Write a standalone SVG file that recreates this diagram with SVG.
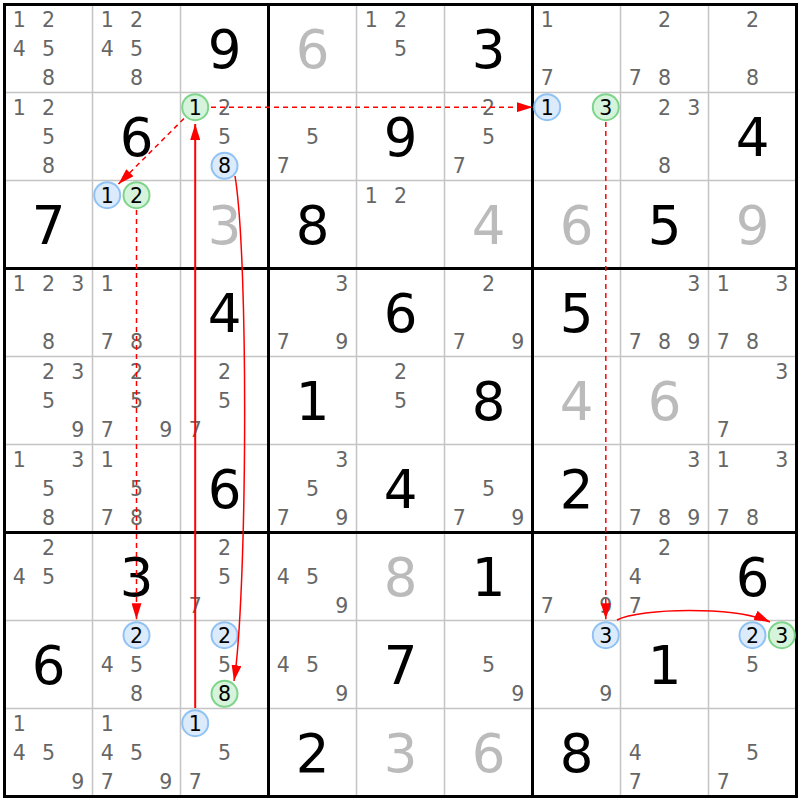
<svg xmlns="http://www.w3.org/2000/svg" width="800" height="800" viewBox="0 0 800 800">
<style>
text{font-family:"DejaVu Sans","Liberation Sans",sans-serif;text-anchor:middle}
.c{font-size:20.5px;fill:#666}
.h{font-size:20.5px;fill:#000}
.g{font-size:53px;fill:#000}
.s{font-size:53px;fill:#bbb}
.thin{stroke:#c4c4c4;stroke-width:1.5}
.thick{stroke:#000;stroke-width:3}
.cb{fill:#dcebfc;stroke:#90c2f4;stroke-width:2}
.cg{fill:#d6f3dc;stroke:#7fd48b;stroke-width:2}
.ln{stroke:#ff0000;fill:none}
.d{stroke-width:1.5;stroke-dasharray:5,4}
</style>
<defs>
<marker id="ah" viewBox="0 0 16 10" refX="16" refY="5" markerWidth="16" markerHeight="10" markerUnits="userSpaceOnUse" orient="auto">
<path d="M0,0 L16,5 L0,10 z" fill="#ff0000"/>
</marker>
</defs>
<rect x="0" y="0" width="800" height="800" fill="#fff"/>
<g id="grid">
<path class="thin" d="M92.5 4.5V796.5M180.5 4.5V796.5M356.5 4.5V796.5M444.5 4.5V796.5M620.5 4.5V796.5M708.5 4.5V796.5M4.5 92.5H796.5M4.5 180.5H796.5M4.5 356.5H796.5M4.5 444.5H796.5M4.5 620.5H796.5M4.5 708.5H796.5"/>
<path class="thick" d="M268.5 4.5V796.5M532.5 4.5V796.5M4.5 268.5H796.5M4.5 532.5H796.5"/>
<rect x="4.5" y="4.5" width="792" height="792" fill="none" stroke="#000" stroke-width="3"/>
</g>
<g id="r0c0"><text class="c" x="19.2" y="26.7">1</text><text class="c" x="48.5" y="26.7">2</text><text class="c" x="19.2" y="56">4</text><text class="c" x="48.5" y="56">5</text><text class="c" x="48.5" y="85.3">8</text></g>
<g id="r0c1"><text class="c" x="107.2" y="26.7">1</text><text class="c" x="136.5" y="26.7">2</text><text class="c" x="107.2" y="56">4</text><text class="c" x="136.5" y="56">5</text><text class="c" x="136.5" y="85.3">8</text></g>
<g id="r0c2"><text class="g" x="224.5" y="67.5">9</text></g>
<g id="r0c3"><text class="s" x="312.5" y="67.5">6</text></g>
<g id="r0c4"><text class="c" x="371.2" y="26.7">1</text><text class="c" x="400.5" y="26.7">2</text><text class="c" x="400.5" y="56">5</text></g>
<g id="r0c5"><text class="g" x="488.5" y="67.5">3</text></g>
<g id="r0c6"><text class="c" x="547.2" y="26.7">1</text><text class="c" x="547.2" y="85.3">7</text></g>
<g id="r0c7"><text class="c" x="664.5" y="26.7">2</text><text class="c" x="635.2" y="85.3">7</text><text class="c" x="664.5" y="85.3">8</text></g>
<g id="r0c8"><text class="c" x="752.5" y="26.7">2</text><text class="c" x="752.5" y="85.3">8</text></g>

<g id="r1c0"><text class="c" x="19.2" y="114.7">1</text><text class="c" x="48.5" y="114.7">2</text><text class="c" x="48.5" y="144">5</text><text class="c" x="48.5" y="173.3">8</text></g>
<g id="r1c1"><text class="g" x="136.5" y="155.5">6</text></g>
<g id="r1c2"><circle class="cg" cx="195.2" cy="107.2" r="13"/><text class="h" x="195.2" y="114.7">1</text><text class="c" x="224.5" y="114.7">2</text><text class="c" x="224.5" y="144">5</text><circle class="cb" cx="224.5" cy="165.8" r="13"/><text class="h" x="224.5" y="173.3">8</text></g>
<g id="r1c3"><text class="c" x="312.5" y="144">5</text><text class="c" x="283.2" y="173.3">7</text></g>
<g id="r1c4"><text class="g" x="400.5" y="155.5">9</text></g>
<g id="r1c5"><text class="c" x="488.5" y="114.7">2</text><text class="c" x="488.5" y="144">5</text><text class="c" x="459.2" y="173.3">7</text></g>
<g id="r1c6"><circle class="cb" cx="547.2" cy="107.2" r="13"/><text class="h" x="547.2" y="114.7">1</text><circle class="cg" cx="605.8" cy="107.2" r="13"/><text class="h" x="605.8" y="114.7">3</text></g>
<g id="r1c7"><text class="c" x="664.5" y="114.7">2</text><text class="c" x="693.8" y="114.7">3</text><text class="c" x="664.5" y="173.3">8</text></g>
<g id="r1c8"><text class="g" x="752.5" y="155.5">4</text></g>

<g id="r2c0"><text class="g" x="48.5" y="243.5">7</text></g>
<g id="r2c1"><circle class="cb" cx="107.2" cy="195.2" r="13"/><text class="h" x="107.2" y="202.7">1</text><circle class="cg" cx="136.5" cy="195.2" r="13"/><text class="h" x="136.5" y="202.7">2</text></g>
<g id="r2c2"><text class="s" x="224.5" y="243.5">3</text></g>
<g id="r2c3"><text class="g" x="312.5" y="243.5">8</text></g>
<g id="r2c4"><text class="c" x="371.2" y="202.7">1</text><text class="c" x="400.5" y="202.7">2</text></g>
<g id="r2c5"><text class="s" x="488.5" y="243.5">4</text></g>
<g id="r2c6"><text class="s" x="576.5" y="243.5">6</text></g>
<g id="r2c7"><text class="g" x="664.5" y="243.5">5</text></g>
<g id="r2c8"><text class="s" x="752.5" y="243.5">9</text></g>

<g id="r3c0"><text class="c" x="19.2" y="290.7">1</text><text class="c" x="48.5" y="290.7">2</text><text class="c" x="77.8" y="290.7">3</text><text class="c" x="48.5" y="349.3">8</text></g>
<g id="r3c1"><text class="c" x="107.2" y="290.7">1</text><text class="c" x="107.2" y="349.3">7</text><text class="c" x="136.5" y="349.3">8</text></g>
<g id="r3c2"><text class="g" x="224.5" y="331.5">4</text></g>
<g id="r3c3"><text class="c" x="341.8" y="290.7">3</text><text class="c" x="283.2" y="349.3">7</text><text class="c" x="341.8" y="349.3">9</text></g>
<g id="r3c4"><text class="g" x="400.5" y="331.5">6</text></g>
<g id="r3c5"><text class="c" x="488.5" y="290.7">2</text><text class="c" x="459.2" y="349.3">7</text><text class="c" x="517.8" y="349.3">9</text></g>
<g id="r3c6"><text class="g" x="576.5" y="331.5">5</text></g>
<g id="r3c7"><text class="c" x="693.8" y="290.7">3</text><text class="c" x="635.2" y="349.3">7</text><text class="c" x="664.5" y="349.3">8</text><text class="c" x="693.8" y="349.3">9</text></g>
<g id="r3c8"><text class="c" x="723.2" y="290.7">1</text><text class="c" x="781.8" y="290.7">3</text><text class="c" x="723.2" y="349.3">7</text><text class="c" x="752.5" y="349.3">8</text></g>

<g id="r4c0"><text class="c" x="48.5" y="378.7">2</text><text class="c" x="77.8" y="378.7">3</text><text class="c" x="48.5" y="408">5</text><text class="c" x="77.8" y="437.3">9</text></g>
<g id="r4c1"><text class="c" x="136.5" y="378.7">2</text><text class="c" x="136.5" y="408">5</text><text class="c" x="107.2" y="437.3">7</text><text class="c" x="165.8" y="437.3">9</text></g>
<g id="r4c2"><text class="c" x="224.5" y="378.7">2</text><text class="c" x="224.5" y="408">5</text><text class="c" x="195.2" y="437.3">7</text></g>
<g id="r4c3"><text class="g" x="312.5" y="419.5">1</text></g>
<g id="r4c4"><text class="c" x="400.5" y="378.7">2</text><text class="c" x="400.5" y="408">5</text></g>
<g id="r4c5"><text class="g" x="488.5" y="419.5">8</text></g>
<g id="r4c6"><text class="s" x="576.5" y="419.5">4</text></g>
<g id="r4c7"><text class="s" x="664.5" y="419.5">6</text></g>
<g id="r4c8"><text class="c" x="781.8" y="378.7">3</text><text class="c" x="723.2" y="437.3">7</text></g>

<g id="r5c0"><text class="c" x="19.2" y="466.7">1</text><text class="c" x="77.8" y="466.7">3</text><text class="c" x="48.5" y="496">5</text><text class="c" x="48.5" y="525.3">8</text></g>
<g id="r5c1"><text class="c" x="107.2" y="466.7">1</text><text class="c" x="136.5" y="496">5</text><text class="c" x="107.2" y="525.3">7</text><text class="c" x="136.5" y="525.3">8</text></g>
<g id="r5c2"><text class="g" x="224.5" y="507.5">6</text></g>
<g id="r5c3"><text class="c" x="341.8" y="466.7">3</text><text class="c" x="312.5" y="496">5</text><text class="c" x="283.2" y="525.3">7</text><text class="c" x="341.8" y="525.3">9</text></g>
<g id="r5c4"><text class="g" x="400.5" y="507.5">4</text></g>
<g id="r5c5"><text class="c" x="488.5" y="496">5</text><text class="c" x="459.2" y="525.3">7</text><text class="c" x="517.8" y="525.3">9</text></g>
<g id="r5c6"><text class="g" x="576.5" y="507.5">2</text></g>
<g id="r5c7"><text class="c" x="693.8" y="466.7">3</text><text class="c" x="635.2" y="525.3">7</text><text class="c" x="664.5" y="525.3">8</text><text class="c" x="693.8" y="525.3">9</text></g>
<g id="r5c8"><text class="c" x="723.2" y="466.7">1</text><text class="c" x="781.8" y="466.7">3</text><text class="c" x="723.2" y="525.3">7</text><text class="c" x="752.5" y="525.3">8</text></g>

<g id="r6c0"><text class="c" x="48.5" y="554.7">2</text><text class="c" x="19.2" y="584">4</text><text class="c" x="48.5" y="584">5</text></g>
<g id="r6c1"><text class="g" x="136.5" y="595.5">3</text></g>
<g id="r6c2"><text class="c" x="224.5" y="554.7">2</text><text class="c" x="224.5" y="584">5</text><text class="c" x="195.2" y="613.3">7</text></g>
<g id="r6c3"><text class="c" x="283.2" y="584">4</text><text class="c" x="312.5" y="584">5</text><text class="c" x="341.8" y="613.3">9</text></g>
<g id="r6c4"><text class="s" x="400.5" y="595.5">8</text></g>
<g id="r6c5"><text class="g" x="488.5" y="595.5">1</text></g>
<g id="r6c6"><text class="c" x="547.2" y="613.3">7</text><text class="c" x="605.8" y="613.3">9</text></g>
<g id="r6c7"><text class="c" x="664.5" y="554.7">2</text><text class="c" x="635.2" y="584">4</text><text class="c" x="635.2" y="613.3">7</text></g>
<g id="r6c8"><text class="g" x="752.5" y="595.5">6</text></g>

<g id="r7c0"><text class="g" x="48.5" y="683.5">6</text></g>
<g id="r7c1"><circle class="cb" cx="136.5" cy="635.2" r="13"/><text class="h" x="136.5" y="642.7">2</text><text class="c" x="107.2" y="672">4</text><text class="c" x="136.5" y="672">5</text><text class="c" x="136.5" y="701.3">8</text></g>
<g id="r7c2"><circle class="cb" cx="224.5" cy="635.2" r="13"/><text class="h" x="224.5" y="642.7">2</text><text class="c" x="224.5" y="672">5</text><circle class="cg" cx="224.5" cy="693.8" r="13"/><text class="h" x="224.5" y="701.3">8</text></g>
<g id="r7c3"><text class="c" x="283.2" y="672">4</text><text class="c" x="312.5" y="672">5</text><text class="c" x="341.8" y="701.3">9</text></g>
<g id="r7c4"><text class="g" x="400.5" y="683.5">7</text></g>
<g id="r7c5"><text class="c" x="488.5" y="672">5</text><text class="c" x="517.8" y="701.3">9</text></g>
<g id="r7c6"><circle class="cb" cx="605.8" cy="635.2" r="13"/><text class="h" x="605.8" y="642.7">3</text><text class="c" x="605.8" y="701.3">9</text></g>
<g id="r7c7"><text class="g" x="664.5" y="683.5">1</text></g>
<g id="r7c8"><circle class="cb" cx="752.5" cy="635.2" r="13"/><text class="h" x="752.5" y="642.7">2</text><circle class="cg" cx="781.8" cy="635.2" r="13"/><text class="h" x="781.8" y="642.7">3</text><text class="c" x="752.5" y="672">5</text></g>

<g id="r8c0"><text class="c" x="19.2" y="730.7">1</text><text class="c" x="19.2" y="760">4</text><text class="c" x="48.5" y="760">5</text><text class="c" x="77.8" y="789.3">9</text></g>
<g id="r8c1"><text class="c" x="107.2" y="730.7">1</text><text class="c" x="107.2" y="760">4</text><text class="c" x="136.5" y="760">5</text><text class="c" x="107.2" y="789.3">7</text><text class="c" x="165.8" y="789.3">9</text></g>
<g id="r8c2"><circle class="cb" cx="195.2" cy="723.2" r="13"/><text class="h" x="195.2" y="730.7">1</text><text class="c" x="224.5" y="760">5</text><text class="c" x="195.2" y="789.3">7</text></g>
<g id="r8c3"><text class="g" x="312.5" y="771.5">2</text></g>
<g id="r8c4"><text class="s" x="400.5" y="771.5">3</text></g>
<g id="r8c5"><text class="s" x="488.5" y="771.5">6</text></g>
<g id="r8c6"><text class="g" x="576.5" y="771.5">8</text></g>
<g id="r8c7"><text class="c" x="635.2" y="760">4</text><text class="c" x="635.2" y="789.3">7</text></g>
<g id="r8c8"><text class="c" x="752.5" y="760">5</text><text class="c" x="723.2" y="789.3">7</text></g>

<g id="connectors">
<line class="ln d" x1="211" y1="107.2" x2="532.7" y2="107.2" marker-end="url(#ah)"/>
<line class="ln d" x1="184" y1="118.5" x2="118.5" y2="184" marker-end="url(#ah)"/>
<line class="ln d" x1="136.5" y1="210" x2="136.5" y2="619.3" marker-end="url(#ah)"/>
<line class="ln d" x1="605.8" y1="122" x2="605.8" y2="619.3" marker-end="url(#ah)"/>
<line class="ln" stroke-width="2" x1="195.2" y1="708" x2="195.2" y2="124" marker-end="url(#ah)"/>
<path class="ln" stroke-width="1.5" d="M235 176 C249 260 247 600 234 681" marker-end="url(#ah)"/>
<path class="ln" stroke-width="1.5" d="M617 620 C640 608 735 606 770 622" marker-end="url(#ah)"/>
</g>
</svg>
